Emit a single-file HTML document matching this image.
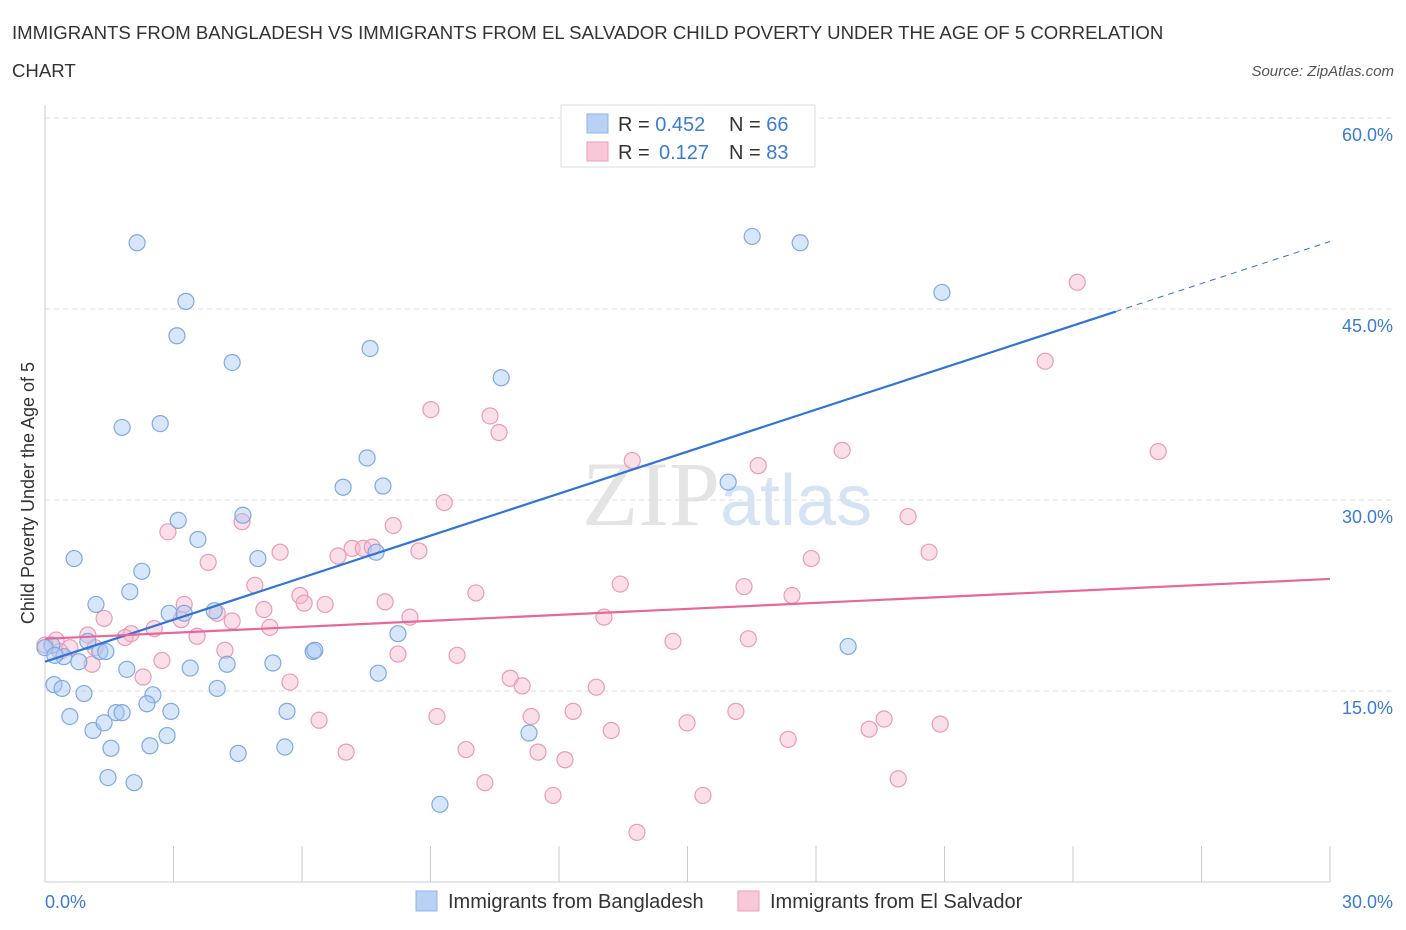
<!DOCTYPE html>
<html><head><meta charset="utf-8">
<style>
body{margin:0;background:#fff;font-family:"Liberation Sans",sans-serif;}
svg{display:block}
</style></head>
<body>
<svg id="chart" width="1406" height="930">
<text x="12" y="39" font-size="18.6" fill="#333">IMMIGRANTS FROM BANGLADESH VS IMMIGRANTS FROM EL SALVADOR CHILD POVERTY UNDER THE AGE OF 5 CORRELATION</text>
<text x="12" y="77" font-size="18.6" fill="#333">CHART</text>
<text x="1394" y="76" font-size="15" fill="#555" font-style="italic" text-anchor="end">Source: ZipAtlas.com</text>
<text x="720" y="525" font-size="92" fill="#e4e4e4" text-anchor="end" font-family="Liberation Serif,serif">ZIP</text>
<text x="720" y="525" font-size="72" fill="#d6e3f5">atlas</text>
<g id="grid"></g>
<g id="axes"></g>
<g id="pts"></g>
<g id="lines"></g>
<text transform="translate(34,493) rotate(-90)" font-size="18" fill="#333" text-anchor="middle">Child Poverty Under the Age of 5</text>
<text x="45" y="908" font-size="18" fill="#3a7bd5">0.0%</text>
<text x="1393" y="908" font-size="18" fill="#3a7bd5" text-anchor="end">30.0%</text>
<g>
<rect x="561" y="105" width="254" height="62" fill="#fff" stroke="#ddd"/>
<rect x="587" y="114" width="21" height="19" fill="#b9d1f5" stroke="#8fb3e8"/>
<rect x="587" y="142" width="21" height="19" fill="#f9c8d8" stroke="#ec9fba"/>
<text x="618" y="131" font-size="20" fill="#333">R = <tspan fill="#3a7bd5">0.452</tspan><tspan x="729">N = </tspan><tspan fill="#3a7bd5">66</tspan></text>
<text x="618" y="159" font-size="20" fill="#333">R = <tspan x="659" fill="#3a7bd5">0.127</tspan><tspan x="729">N = </tspan><tspan fill="#3a7bd5">83</tspan></text>
</g>
<g>
<rect x="416" y="891" width="21" height="20" fill="#b9d1f5" stroke="#8fb3e8"/>
<text x="448" y="908" font-size="20" fill="#333">Immigrants from Bangladesh</text>
<rect x="738" y="891" width="21" height="20" fill="#f9c8d8" stroke="#ec9fba"/>
<text x="770" y="908" font-size="20" fill="#333">Immigrants from El Salvador</text>
</g>
</svg>
<script>
const blueX=[2.15,3.29,3.08,4.37,7.59,10.65,1.80,2.69,7.52,6.96,7.89,4.62,3.11,3.57,0.68,4.97,7.73,2.26,1.98,1.19,2.90,3.25,3.95,1.00,0.16,1.28,0.44,0.79,1.42,6.26,6.30,5.32,3.39,4.25,1.91,7.78,0.21,0.40,0.91,2.52,4.02,2.38,5.65,0.58,1.66,1.80,2.94,1.12,1.38,2.85,2.45,1.54,5.60,4.51,1.47,2.08,9.22,11.30,8.24,16.51,17.63,20.94,15.95,18.75,0.00,0.23];
const blueY=[50.2,45.6,42.9,40.8,41.9,39.6,35.7,36.0,33.3,31.0,31.1,28.8,28.4,26.9,25.4,25.4,25.9,24.4,22.8,21.8,21.1,21.1,21.3,18.9,18.6,18.1,17.7,17.3,18.1,18.1,18.2,17.2,16.8,17.1,16.7,16.4,15.5,15.2,14.8,14.7,15.2,14.0,13.4,13.0,13.3,13.3,13.4,11.9,12.5,11.5,10.7,10.5,10.6,10.1,8.2,7.8,6.1,11.7,19.5,50.7,50.2,46.3,31.4,18.5,18.4,17.8];
const pinkX=[24.10,23.35,25.99,9.01,10.39,10.60,13.71,16.65,18.61,9.32,4.60,8.13,2.87,7.17,7.43,7.64,6.84,5.49,8.73,3.81,17.89,20.64,20.15,13.43,16.32,10.06,4.90,5.95,6.54,7.94,3.25,6.05,17.44,5.11,4.02,8.52,13.05,3.18,4.37,5.25,2.55,2.01,1.38,3.55,1.87,16.42,14.66,1.00,0.26,0.58,1.17,4.20,8.24,9.62,2.73,1.10,2.29,10.86,11.14,5.72,12.87,9.15,11.35,12.33,16.13,19.59,20.90,19.24,14.99,6.40,13.22,17.35,9.83,7.03,11.51,12.14,10.27,19.92,11.86,15.36,13.82,0.00,0.35];
const pinkY=[47.1,40.9,33.8,37.1,36.6,35.3,33.1,32.7,33.9,29.8,28.3,28.0,27.5,26.2,26.2,26.3,25.6,25.9,26.0,25.1,25.4,25.9,28.7,23.4,23.2,22.7,23.3,22.5,21.8,22.0,21.8,21.9,22.5,21.4,21.1,20.8,20.8,20.6,20.5,20.0,19.9,19.5,20.7,19.3,19.2,19.1,18.9,19.4,19.0,18.4,18.4,18.2,17.9,17.8,17.4,17.1,16.1,16.0,15.4,15.7,15.3,13.0,13.0,13.4,13.4,12.8,12.4,12.0,12.5,12.7,11.9,11.2,10.4,10.2,10.2,9.6,7.8,8.1,6.8,6.8,3.9,18.6,18.1];
const blueLine=[17.3,50.3]; const blueSolidEnd=25.0;
const pinkLine=[19.1,23.8];
const yTicks=[15,30,45,60];
const yTickLabels=["15.0%","30.0%","45.0%","60.0%"];
const xTicks=[0,3,6,9,12,15,18,21,24,27,30];

const NS="http://www.w3.org/2000/svg";
const sx=v=>45+v*(1285/30);
const sy=v=>882-v*(191/15);
function mk(tag,attrs,parent){const e=document.createElementNS(NS,tag);for(const k in attrs)e.setAttribute(k,attrs[k]);parent.appendChild(e);return e;}
const grid=document.getElementById('grid'),axes=document.getElementById('axes'),pts=document.getElementById('pts'),lines=document.getElementById('lines');
yTicks.forEach((t,i)=>{
  const l=mk('line',{x1:45,x2:1393,y1:sy(t),y2:sy(t),stroke:'#ddd','stroke-dasharray':'5,4'},grid);
  
  
  const tx=mk('text',{x:1393,y:sy(t)+23,'font-size':18,fill:'#3a7bd5','text-anchor':'end'},grid);
  tx.textContent=yTickLabels[i];
  
  
});
const ax=mk('line',{x1:45,x2:45,y1:105,y2:882,stroke:'#ccc'},axes);


const bx=mk('line',{x1:45,x2:1330,y1:882,y2:882,stroke:'#ccc'},axes);


xTicks.forEach(t=>{
  const l=mk('line',{x1:sx(t),x2:sx(t),y1:846,y2:882,stroke:'#ccc'},axes);
  
  
});
function drawPts(X,Y,fill,stroke,name){
  X.forEach((x,i)=>{
    const c=mk('circle',{cx:sx(x),cy:sy(Y[i]),r:8,fill:fill,stroke:stroke,'stroke-width':1.2},pts);
    
    
  });
}
drawPts(pinkX,pinkY,'rgba(246,184,205,0.45)','#eb9ab7','el-salvador-point');
drawPts(blueX,blueY,'rgba(168,199,242,0.45)','#7ea9e2','bangladesh-point');
const bAt=x=>blueLine[0]+(blueLine[1]-blueLine[0])*x/30;
const bl=mk('line',{x1:sx(0),y1:sy(bAt(0)),x2:sx(blueSolidEnd),y2:sy(bAt(blueSolidEnd)),stroke:'#2f74d6','stroke-width':2.2},lines);


const bd=mk('line',{x1:sx(blueSolidEnd),y1:sy(bAt(blueSolidEnd)),x2:sx(30),y2:sy(bAt(30)),stroke:'#2f74d6','stroke-width':1,'stroke-dasharray':'6,5'},lines);


const pl=mk('line',{x1:sx(0),y1:sy(pinkLine[0]),x2:sx(30),y2:sy(pinkLine[1]),stroke:'#e8679a','stroke-width':2.2},lines);


</script>
</body></html>
